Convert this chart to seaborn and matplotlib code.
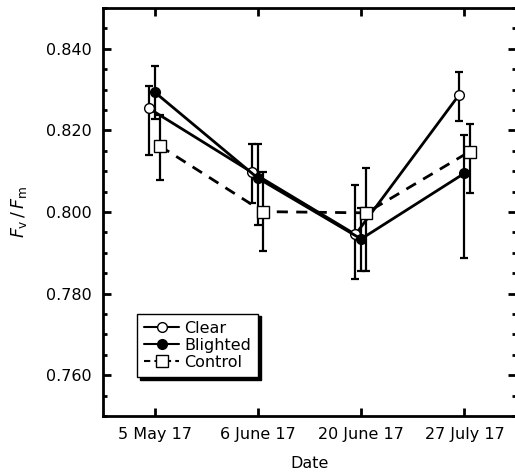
import numpy as np
import pandas as pd
import matplotlib
matplotlib.use("Agg")
import matplotlib.pyplot as plt
import seaborn as sns
from matplotlib.ticker import MultipleLocator, FormatStrFormatter
from matplotlib.lines import Line2D

dates = ["5 May 17", "6 June 17", "20 June 17", "27 July 17"]
groups = ["Clear", "Blighted", "Control"]

clear_mean = [0.8254, 0.8097, 0.7945, 0.8286]
clear_low = [0.8141, 0.8022, 0.7835, 0.8223]
clear_high = [0.8309, 0.8168, 0.8067, 0.8343]

blighted_mean = [0.8294, 0.8083, 0.7934, 0.8095]
blighted_low = [0.8229, 0.7969, 0.7856, 0.7888]
blighted_high = [0.8359, 0.8168, 0.8010, 0.8189]

control_mean = [0.8162, 0.8001, 0.7998, 0.8148]
control_low = [0.8079, 0.7904, 0.7855, 0.8046]
control_high = [0.8237, 0.8098, 0.8107, 0.8217]

offsets = {"Clear": -0.055, "Blighted": 0.0, "Control": 0.05}

rows = []
for g, m, lo, hi in [("Clear", clear_mean, clear_low, clear_high),
                     ("Blighted", blighted_mean, blighted_low, blighted_high),
                     ("Control", control_mean, control_low, control_high)]:
    for i, d in enumerate(dates):
        rows.append(dict(group=g, date=d, pos=i + offsets[g], mean=m[i], low=lo[i], high=hi[i]))
df = pd.DataFrame(rows)

sns.set_style("ticks")
plt.rcParams["font.family"] = ["DejaVu Sans"]
plt.rcParams["text.color"] = "black"
plt.rcParams["axes.labelcolor"] = "black"
plt.rcParams["xtick.color"] = "black"
plt.rcParams["ytick.color"] = "black"
plt.rcParams["axes.edgecolor"] = "black"

fig = plt.figure(figsize=(5.15, 4.75), dpi=100)
ax = fig.add_axes([0.2, 0.1242, 0.802, 0.8588])

styles = {
    "Clear": dict(marker="o", mfc="white", ls="-", ms=7),
    "Blighted": dict(marker="o", mfc="black", ls="-", ms=7),
    "Control": dict(marker="s", mfc="white", ls=(0, (4, 3)), ms=8),
}

for g in groups:
    sub = df[df.group == g]
    ax.errorbar(sub["pos"], sub["mean"],
                yerr=[sub["mean"] - sub["low"], sub["high"] - sub["mean"]],
                fmt="none", ecolor="black", elinewidth=1.6, capsize=3, capthick=1.6, zorder=2)
    sns.lineplot(data=sub, x="pos", y="mean", ax=ax, color="black",
                 linewidth=2, marker=styles[g]["marker"], markersize=styles[g]["ms"],
                 markerfacecolor=styles[g]["mfc"], markeredgecolor="black",
                 markeredgewidth=1.0, linestyle=styles[g]["ls"], label=g,
                 zorder=3, legend=False)

ax.set_xlim(-0.5, 3.5)
ax.set_ylim(0.750, 0.850)
ax.set_xticks(range(len(dates)))
ax.set_xticklabels(dates)
ax.yaxis.set_major_locator(MultipleLocator(0.02))
ax.yaxis.set_minor_locator(MultipleLocator(0.005))
ax.yaxis.set_major_formatter(FormatStrFormatter("%.3f"))

for s in ax.spines.values():
    s.set_linewidth(2)
    s.set_color("black")
ax.spines["right"].set_visible(False)
ax.tick_params(axis="both", which="major", direction="in", length=6, width=2,
               labelsize=11.5, top=True, right=True, pad=8, colors="black")
ax.tick_params(axis="y", which="minor", direction="in", length=3, width=2, right=True)
ax.tick_params(axis="x", which="minor", bottom=False, top=False)

ax.set_xlabel("Date", fontsize=11.5, labelpad=10)
ax.set_ylabel(r"$F_\mathrm{v}\,/\,F_\mathrm{m}$", fontsize=12.5, labelpad=12)

handles = [Line2D([], [], color="black", lw=1.5, marker="o", mfc="white", mec="black", ms=7),
           Line2D([], [], color="black", lw=1.5, marker="o", mfc="black", mec="black", ms=7),
           Line2D([], [], color="black", lw=1.5, ls=(0, (3, 2)), marker="s", mfc="white", mec="black", ms=8)]
leg = ax.legend(handles, groups, loc="lower left", bbox_to_anchor=(0.082, 0.096),
                borderaxespad=0, fancybox=False, edgecolor="black", framealpha=1,
                shadow={"color": "black", "alpha": 1}, fontsize=11.5,
                handlelength=2.2, handletextpad=0.3, labelspacing=0.12,
                borderpad=0.45)
leg.get_frame().set_linewidth(1.0)

fig.savefig("out.png", dpi=100)
